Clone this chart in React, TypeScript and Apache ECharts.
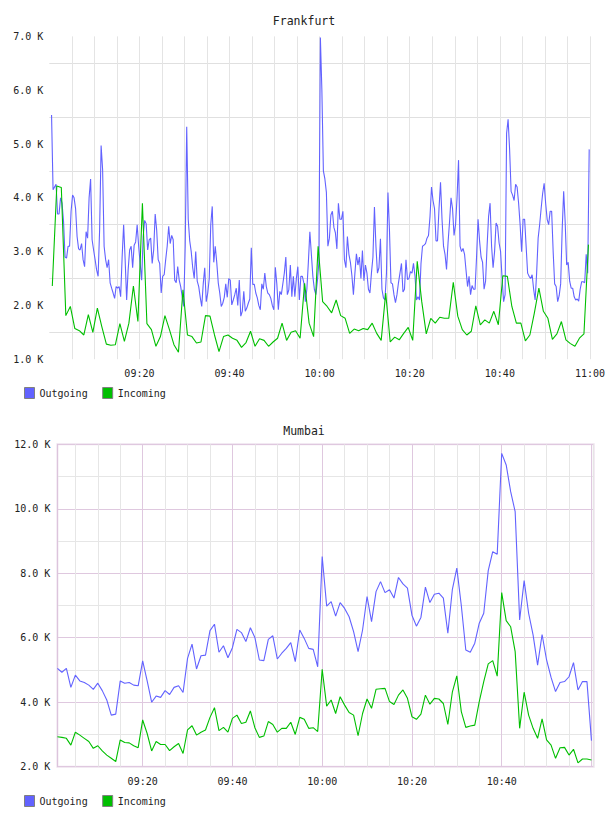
import React, { useEffect, useRef } from 'react';
import * as echarts from 'echarts';

const FONT = '"DejaVu Sans Mono", monospace';
const BLUE = '#6262ff';
const GREEN = '#00bf00';
const TEXT = '#222222';

// Frankfurt, values in K, outgoing sampled every 20 s from 09:00:30
const frankfurtOutgoing = [
  5.54,4.15,4.2,4.25,3.7,3.7,4.0,3.9,3.55,2.9,
  2.88,3.1,3.1,3.75,4.05,4.0,3.8,3.28,3.05,3.03,
  3.15,2.85,2.72,3.37,3.25,4.0,4.35,3.22,3.03,2.85,
  2.66,2.54,3.4,4.97,4.52,3.1,2.85,2.7,2.85,2.42,
  2.32,2.23,2.13,2.35,2.32,2.35,2.16,2.9,3.5,2.85,
  2.1,2.66,3.03,3.1,2.7,3.12,3.18,3.5,3.1,2.78,
  2.47,3.28,3.58,3.52,3.03,3.22,3.25,2.78,3.03,3.7,
  3.4,2.85,2.78,2.23,2.54,2.57,2.85,3.1,3.47,3.15,
  3.3,3.22,2.47,2.42,2.72,2.47,2.35,2.16,1.98,3.1,
  5.32,3.6,3.2,3.0,2.7,2.5,3.0,2.45,2.35,2.15,
  1.98,2.4,2.7,2.07,2.23,2.5,3.5,3.84,2.8,3.1,
  2.8,2.42,2.23,1.98,2.04,2.15,2.4,2.15,2.5,2.47,
  2.01,2.1,2.2,2.32,2.0,2.47,1.8,1.89,2.26,1.89,
  1.95,2.04,2.12,3.07,2.39,2.39,2.23,2.14,2.0,1.92,
  2.4,2.3,2.6,2.35,2.23,2.2,2.13,2.0,1.92,2.71,
  2.4,1.92,2.26,2.2,2.4,2.6,2.9,2.2,2.29,2.75,
  2.16,2.54,2.16,2.5,2.72,2.1,2.54,2.54,2.42,2.07,
  2.3,2.8,3.37,2.95,2.54,2.3,2.2,2.45,2.8,6.98,
  6.0,4.5,4.35,4.1,3.1,3.25,3.68,3.75,3.45,3.35,
  3.05,3.9,3.6,3.6,3.75,2.85,2.7,3.28,2.95,2.8,
  2.55,2.2,2.6,2.96,2.75,2.9,2.5,3.02,2.46,2.75,
  2.6,2.3,2.23,2.6,2.9,3.83,3.1,2.6,2.7,3.24,
  2.3,2.14,2.1,2.6,4.1,3.4,2.42,2.4,2.2,2.05,
  2.2,2.42,2.6,2.78,2.25,2.3,2.85,2.48,2.5,2.63,
  2.6,2.78,2.55,2.1,2.16,2.1,2.78,3.1,3.12,3.15,
  3.25,3.3,3.65,4.2,3.95,3.8,3.2,3.2,3.8,4.29,
  3.6,3.1,2.95,2.67,3.16,3.55,4.0,3.8,3.3,3.5,
  4.0,4.7,3.1,3.0,3.06,2.95,2.65,2.35,2.54,2.2,
  2.37,2.3,2.3,2.9,3.6,3.2,2.9,2.8,2.3,2.45,
  3.1,3.65,3.9,3.1,2.7,3.0,3.53,3.47,3.16,3.0,
  2.5,2.07,2.2,5.2,5.46,4.9,4.12,4.05,3.95,4.25,
  4.2,3.9,3.5,3.0,3.6,3.6,3.1,2.6,2.54,2.5,
  2.57,2.3,2.1,2.6,3.25,3.5,3.8,4.08,4.27,3.9,
  3.6,3.5,3.75,3.75,3.0,2.4,2.35,2.07,2.18,2.4,
  3.4,4.12,3.55,2.75,2.8,2.45,2.32,2.32,2.16,2.1,
  2.12,2.08,2.3,2.44,2.44,2.42,2.95,2.6,4.9,
];
const FRA_OUT_START = 0.5; // minutes after 09:00
const FRA_OUT_STEP = 1 / 3;

// Frankfurt incoming, every minute from 09:00:40
const frankfurtIncoming = [
  2.36,4.22,4.19,1.81,1.98,1.57,1.53,1.45,1.83,1.5,1.95,1.6,1.28,1.26,1.27,1.66,1.33,1.67,2.36,1.7,3.9,1.66,1.55,1.24,1.42,1.81,1.55,1.27,1.13,2.29,
  1.45,1.42,1.3,1.32,1.81,1.8,1.45,1.14,1.42,1.45,1.39,1.35,1.22,1.31,1.52,1.24,1.38,1.35,1.24,1.32,1.39,1.67,1.35,1.5,1.53,1.39,2.41,1.67,1.42,3.1,
  2.07,1.98,1.86,2.1,1.81,1.76,1.48,1.56,1.53,1.57,1.55,1.67,1.48,1.35,2.23,1.32,1.41,1.36,1.48,1.59,1.35,2.82,2.07,1.47,1.76,1.67,1.78,1.76,1.76,2.43,
  1.8,1.55,1.45,1.52,1.99,1.64,1.73,1.67,1.89,1.64,2.55,2.54,1.98,1.67,1.67,1.34,1.45,1.86,2.32,1.89,1.76,1.37,1.47,1.7,1.36,1.29,1.24,1.39,1.47,3.13,
];
const FRA_IN_START = 2 / 3;
const FRA_IN_STEP = 1;

// Mumbai, values in K, every minute from 09:01
const mumbaiOutgoing = [
  5.05,4.93,5.05,4.46,4.84,4.66,4.61,4.53,4.4,4.59,
  4.36,4.07,3.6,3.63,4.66,4.59,4.61,4.53,4.51,5.28,
  4.66,4.0,4.19,4.15,4.36,4.24,4.46,4.51,4.3,5.36,
  5.8,5.03,5.44,5.46,6.22,6.42,5.55,5.75,5.38,5.69,
  6.26,6.16,5.88,6.31,6.01,5.31,5.29,5.95,6.06,5.34,
  5.52,5.67,5.85,5.26,6.24,5.98,5.67,5.64,5.1,8.52,
  6.98,7.12,6.67,7.09,6.91,6.65,6.19,5.57,6.24,7.28,
  6.5,7.43,7.74,7.4,7.49,7.23,7.87,7.67,7.54,6.7,
  6.36,6.63,7.57,7.09,7.35,7.38,7.23,6.14,7.49,8.16,
  7.0,5.62,5.55,5.83,6.45,6.76,8.08,8.67,8.59,11.72,
  11.36,10.53,9.91,6.55,7.77,6.76,6.08,5.15,6.1,5.31,
  4.77,4.33,4.61,4.64,4.79,5.23,4.38,4.64,4.64,2.81,
];
const mumbaiIncoming = [
  2.93,2.91,2.88,2.67,3.07,2.98,2.88,2.78,2.57,2.65,
  2.49,2.36,2.26,2.16,2.83,2.75,2.74,2.65,2.59,3.45,
  3.03,2.49,2.78,2.69,2.69,2.5,2.62,2.72,2.41,3.14,
  3.27,2.98,3.07,3.14,3.53,3.83,3.12,3.22,3.07,3.5,
  3.6,3.34,3.38,3.73,3.21,2.91,2.95,3.4,3.31,3.07,
  3.19,3.19,3.38,3.0,3.53,3.47,3.19,3.21,3.09,5.02,
  3.88,4.07,3.65,4.17,3.91,3.68,3.6,2.96,3.65,4.1,
  3.81,4.4,4.42,4.43,4.02,3.93,4.22,4.38,4.12,3.55,
  3.47,3.63,4.22,3.94,4.12,4.1,3.96,3.31,4.31,4.82,
  3.71,3.22,3.26,3.29,4.02,4.64,5.19,5.29,4.81,7.4,
  6.53,6.34,5.57,3.19,4.31,3.6,3.19,2.88,3.48,2.83,
  2.67,2.26,2.59,2.6,2.36,2.54,2.12,2.24,2.24,2.21,
];
const MUM_START = 1;
const MUM_STEP = 1;

const titles = ['Frankfurt', 'Mumbai'];
const seriesNames = ['Outgoing', 'Incoming'];

function toPairs(values: number[], start: number, step: number) {
  return values.map((v, i) => [start + i * step, v]);
}
function pad(n: number) {
  return (n < 10 ? '0' : '') + n;
}
function fmtTime(m: number) {
  const h = 9 + Math.floor(m / 60);
  return pad(h) + ':' + pad(Math.round(m % 60));
}

const MAJOR = '#dfc8df';
const MINOR = '#e6e6e6';

export default function App() {
  const ref = useRef<HTMLDivElement>(null);
  useEffect(() => {
    if (!ref.current) return;
    const chart = echarts.init(ref.current, undefined, { renderer: 'svg' });
    const labelStyle = { fontFamily: FONT, fontSize: 10, color: TEXT };
    const legendData = [
      { name: seriesNames[0], itemStyle: { color: BLUE, borderColor: '#808080', borderWidth: 1 } },
      { name: seriesNames[1], itemStyle: { color: GREEN, borderColor: '#808080', borderWidth: 1 } },
    ];
    const legendBase = {
      left: 24,
      padding: 0,
      icon: 'rect',
      itemWidth: 10,
      itemHeight: 11,
      itemGap: 14.5,
      textStyle: { fontFamily: FONT, fontSize: 10, color: TEXT },
      data: legendData,
    };
    const line = (name: string, color: string, data: number[][], xi: number, yi: number) => ({
      name,
      type: 'line',
      xAxisIndex: xi,
      yAxisIndex: yi,
      data,
      showSymbol: false,
      symbol: 'none',
      color,
      lineStyle: { color, width: 1.1 },
      emphasis: { disabled: true },
    });
    chart.setOption({
      animation: false,
      textStyle: { fontFamily: FONT },
      title: [
        { text: titles[0], left: 'center', top: 15, padding: 0, textStyle: { fontFamily: FONT, fontSize: 11.5, fontWeight: 'normal', color: TEXT } },
        { text: titles[1], left: 'center', top: 425, padding: 0, textStyle: { fontFamily: FONT, fontSize: 11.5, fontWeight: 'normal', color: TEXT } },
      ],
      legend: [
        { ...legendBase, top: 387 },
        { ...legendBase, top: 795 },
      ],
      grid: [
        { left: 49.3, right: 17, top: 36.4, height: 322.8, show: false },
        { left: 57.4, right: 14.3, top: 444.3, height: 322.4, show: true, borderColor: '#eee2ee', borderWidth: 2 },
        { left: 75.35, right: 14.3, top: 444.3, height: 322.4, show: false },
      ],
      xAxis: [
        {
          gridIndex: 0, type: 'value', min: 0, max: 120, interval: 5,
          axisLine: { show: false }, axisTick: { show: false },
          axisLabel: { ...labelStyle, margin: 9, formatter: (v: number) => (v > 0 && v % 20 === 0 ? fmtTime(v) : '') },
          splitLine: { show: true, showMinLine: false, lineStyle: { color: '#e4e4e4', width: 1 } },
        },
        { gridIndex: 1, type: 'value', min: 1, max: 120.5, show: false },
        {
          gridIndex: 2, type: 'value', min: 5, max: 120.5, interval: 5,
          axisLine: { show: false }, axisTick: { show: false },
          axisLabel: { ...labelStyle, margin: 10, formatter: (v: number) => (v % 20 === 0 && v < 120 ? fmtTime(v) : '') },
          splitLine: { show: true, lineStyle: { color: [MINOR, MINOR, MINOR, MAJOR], width: 1 } },
        },
      ],
      yAxis: [
        {
          gridIndex: 0, type: 'value', min: 1, max: 7, interval: 1,
          axisLine: { show: false }, axisTick: { show: false },
          axisLabel: { ...labelStyle, margin: 6, formatter: (v: number) => v.toFixed(1) + ' K' },
          splitLine: { show: false },
          minorTick: { show: false, splitNumber: 2 },
          minorSplitLine: { show: true, lineStyle: { color: '#e0e0e0', width: 1 } },
        },
        {
          gridIndex: 1, type: 'value', min: 2, max: 12, interval: 1,
          axisLine: { show: true, lineStyle: { color: '#dcc4dc', width: 1 } }, axisTick: { show: false },
          axisLabel: { ...labelStyle, margin: 7, formatter: (v: number) => (Math.round(v) % 2 === 0 ? v.toFixed(1) + ' K' : '') },
          splitLine: { show: true, lineStyle: { color: [MAJOR, MINOR], width: 1 } },
        },
        { gridIndex: 2, type: 'value', min: 0, max: 1, show: false },
      ],
      series: [
        line(seriesNames[0], BLUE, toPairs(frankfurtOutgoing, FRA_OUT_START, FRA_OUT_STEP), 0, 0),
        line(seriesNames[1], GREEN, toPairs(frankfurtIncoming, FRA_IN_START, FRA_IN_STEP), 0, 0),
        line(seriesNames[0], BLUE, toPairs(mumbaiOutgoing, MUM_START, MUM_STEP), 1, 1),
        line(seriesNames[1], GREEN, toPairs(mumbaiIncoming, MUM_START, MUM_STEP), 1, 1),
      ],
    });
    return () => chart.dispose();
  }, []);
  return (
    <div
      ref={ref}
      style={{ position: 'fixed', left: 0, top: 0, width: 608, height: 816, background: '#ffffff' }}
    />
  );
}
